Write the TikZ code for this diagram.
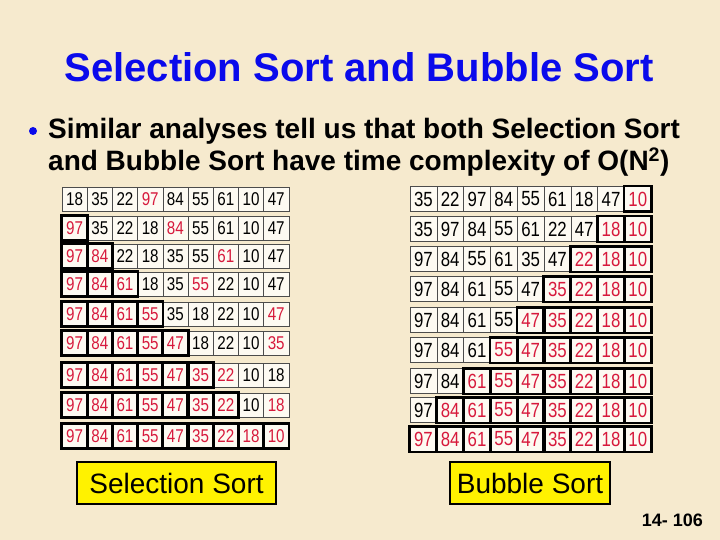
\documentclass[tikz,border=0pt]{standalone}
\usepackage{fontspec}
\setmainfont{Liberation Sans}
\newfontfamily\narrowfont[FakeStretch=0.82]{Liberation Sans}
\usetikzlibrary{positioning}
\definecolor{slidebg}{RGB}{246,234,206}
\definecolor{titleblue}{RGB}{10,10,235}
\definecolor{numred}{RGB}{215,25,60}
\definecolor{cellfill}{RGB}{253,250,242}

\begin{document}
\begin{tikzpicture}[x=1pt, y=-1pt]
      \tikzstyle{lcell} = [draw=black!70, line width=0.6pt, fill=cellfill, minimum width=25.2pt, minimum height=24pt, inner sep=0pt, font=\narrowfont\fontsize{18.5}{18.5}\selectfont]
      \tikzstyle{rcell} = [lcell, minimum width=26.8pt, minimum height=25pt, font=\narrowfont\fontsize{20.5}{20.5}\selectfont]
      \tikzstyle{sortedbox} = [draw=black, line width=2.6pt]
      \tikzstyle{namebox} = [draw=black, line width=1.2pt, fill=yellow, inner sep=0pt, minimum height=42pt, font=\fontsize{28}{28}\selectfont]

      \fill[slidebg] (0,0) rectangle (720,540);
      \useasboundingbox (0,0) rectangle (720,540);

      \node[anchor=base, font=\bfseries\fontsize{40}{40}\selectfont, text=titleblue] (title) at (359,82) {Selection Sort and Bubble Sort};

      \node[circle, fill=titleblue, minimum size=8pt, inner sep=0pt] (bullet) at (33,131) {};
      \node[anchor=base west, inner sep=0pt, font=\bfseries\fontsize{28}{28}\selectfont] (line1) at (48,139) {Similar analyses tell us that both Selection Sort};
      \node[anchor=base west, inner sep=0pt, font=\bfseries\fontsize{28}{28}\selectfont] (line2) at (48,171) {and Bubble Sort have time complexity of O(N\textsuperscript{2})};

      % selection sort: row y / sorted prefix / red pick / values
      \foreach \yy/\k/\r/\vals [count=\i] in {
          199/0/4/{18,35,22,97,84,55,61,10,47},
          228/1/5/{97,35,22,18,84,55,61,10,47},
          256/2/7/{97,84,22,18,35,55,61,10,47},
          284/3/6/{97,84,61,18,35,55,22,10,47},
          314/4/9/{97,84,61,55,35,18,22,10,47},
          343/5/9/{97,84,61,55,47,18,22,10,35},
          375/6/7/{97,84,61,55,47,35,22,10,18},
          405/7/9/{97,84,61,55,47,35,22,10,18},
          436/9/0/{97,84,61,55,47,35,22,18,10}} {
        \foreach \v [count=\c] in \vals {
          \ifnum\c>\k\relax
            \ifnum\c=\r\relax \def\tc{numred}\else \def\tc{black}\fi
          \else \def\tc{numred}\fi
          \node[lcell, text=\tc] (L-\i-\c) at ({62+25.2*(\c-0.5)}, \yy) {\v};
        }
        \ifnum\k>0\relax
          \foreach \c in {1,...,\k} {
            \draw[sortedbox] (L-\i-\c.south west) rectangle (L-\i-\c.north east);
          }
        \fi
      }

      % bubble sort: row y / sorted suffix / values
      \foreach \yy/\k/\vals [count=\i] in {
          199/1/{35,22,97,84,55,61,18,47,10},
          229/2/{35,97,84,55,61,22,47,18,10},
          259/3/{97,84,55,61,35,47,22,18,10},
          289/4/{97,84,61,55,47,35,22,18,10},
          320/5/{97,84,61,55,47,35,22,18,10},
          350/6/{97,84,61,55,47,35,22,18,10},
          381/7/{97,84,61,55,47,35,22,18,10},
          410/8/{97,84,61,55,47,35,22,18,10},
          439/9/{97,84,61,55,47,35,22,18,10}} {
        \pgfmathtruncatemacro\s{10-\k}
        \foreach \v [count=\c] in \vals {
          \ifnum\c<\s\relax \def\tc{black}\else \def\tc{numred}\fi
          \node[rcell, text=\tc] (R-\i-\c) at ({410+26.8*(\c-0.5)}, \yy) {\v};
        }
        \foreach \c in {\s,...,9} {
          \draw[sortedbox] (R-\i-\c.south west) rectangle (R-\i-\c.north east);
        }
      }

      \node[namebox, minimum width=199pt] (selname) at (176.5,483) {Selection Sort};
      \node[namebox, minimum width=160pt] (bubname) at (530,483) {Bubble Sort};

      \node[anchor=base east, inner sep=0pt, font=\bfseries\fontsize{18}{18}\selectfont] (pageno) at (703,526) {14- 106};
\end{tikzpicture}
\end{document}
